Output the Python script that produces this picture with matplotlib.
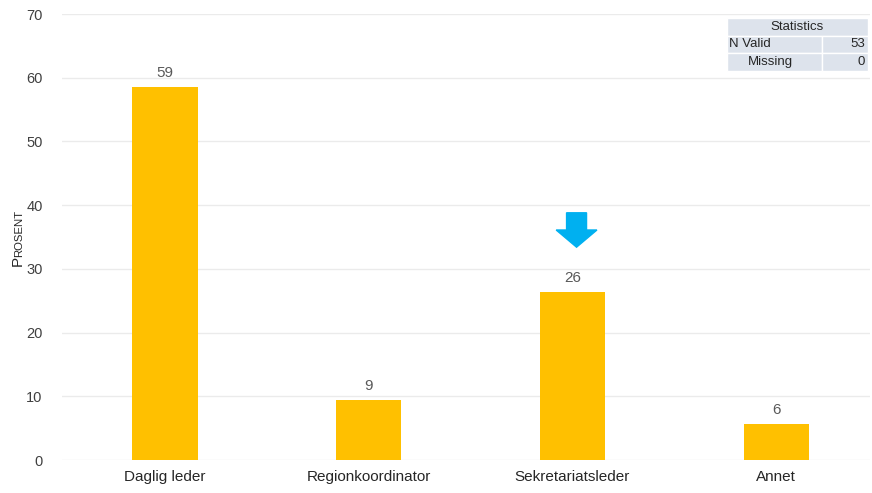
import matplotlib
matplotlib.use("Agg")
import matplotlib.pyplot as plt
from matplotlib.patches import Rectangle, FancyArrow

plt.rcParams['font.family'] = ['Liberation Sans', 'DejaVu Sans']

categories = ["Daglig leder", "Regionkoordinator", "Sekretariatsleder", "Annet"]
values = [58.5, 9.4, 26.4, 5.7]
labels = ["59", "9", "26", "6"]
yticks = [0, 10, 20, 30, 40, 50, 60, 70]
stats_rows = [("N Valid", "53"), ("Missing", "0")]

bar_color = "#FFC000"
grid_color = "#EBEBEB"
text_gray = "#595959"

fig = plt.figure(figsize=(8.72, 4.93), dpi=100)
ax = fig.add_axes([62/872, 1-460/493, 808/872, 446/493])

x = list(range(len(categories)))
bars = ax.bar(x, values, width=0.32, color=bar_color, zorder=3)
for xi, v, lab in zip(x, values, labels):
    ax.annotate(lab, (xi, v), xytext=(0, 5), textcoords="offset points",
                ha="center", va="bottom", fontsize=11, color=text_gray)

ax.set_ylim(0, 70)
ax.set_xlim(-0.505, 3.46)
ax.set_yticks(yticks)
ax.set_xticks(x)
ax.set_xticklabels(categories, fontsize=11, color="#262626")
ax.tick_params(axis="y", labelsize=10.5, labelcolor="#404040", length=0, pad=14)
ax.tick_params(axis="x", length=0, pad=7)
ax.grid(axis="y", color=grid_color, linewidth=1.0, zorder=0)
for s in ax.spines.values():
    s.set_visible(False)

# Y label in small caps style
fig.text(22/872, 1-266/493, "P", rotation=90, rotation_mode="anchor",
         ha="left", va="baseline", fontsize=11, color="#262626")
fig.text(22/872, 1-257/493, "ROSENT", rotation=90, rotation_mode="anchor",
         ha="left", va="baseline", fontsize=8.2, color="#262626")

# Arrow pointing to Sekretariatsleder
ax.add_patch(FancyArrow(2.02, 38.8, 0, -5.4, width=0.098, head_width=0.2,
                        head_length=2.7, length_includes_head=True,
                        color="#00B0F0", zorder=4))

# Statistics table (axes fraction)
cell_bg = "#DDE3EC"
x0, x1, xm = (727-62)/808, (868-62)/808, (822-62)/808
row_h = 17.5/446
ytop = 1 - 4/446
tr = ax.transAxes
ax.add_patch(Rectangle((x0, ytop-row_h), x1-x0, row_h, transform=tr,
                       facecolor=cell_bg, edgecolor="white", lw=1.0, zorder=5))
ax.text((x0+x1)/2, ytop-row_h/2, "Statistics", transform=tr, ha="center",
        va="center", fontsize=9.5, color="#262626", zorder=6)
for i, (name, val) in enumerate(stats_rows):
    yb = ytop - row_h*(i+2)
    ax.add_patch(Rectangle((x0, yb), xm-x0, row_h, transform=tr,
                           facecolor=cell_bg, edgecolor="white", lw=1.0, zorder=5))
    ax.add_patch(Rectangle((xm, yb), x1-xm, row_h, transform=tr,
                           facecolor=cell_bg, edgecolor="white", lw=1.0, zorder=5))
    if i == 0:
        ax.text(x0+2/808, yb+row_h/2, name, transform=tr, ha="left", va="center",
                fontsize=9.5, color="#262626", zorder=6)
    else:
        ax.text((770.5-62)/808, yb+row_h/2, name, transform=tr,
                ha="center", va="center", fontsize=9.5, color="#262626", zorder=6)
    ax.text(x1-3/808, yb+row_h/2, val, transform=tr, ha="right", va="center",
            fontsize=9.5, color="#262626", zorder=6)

fig.savefig("out.png", dpi=100)
